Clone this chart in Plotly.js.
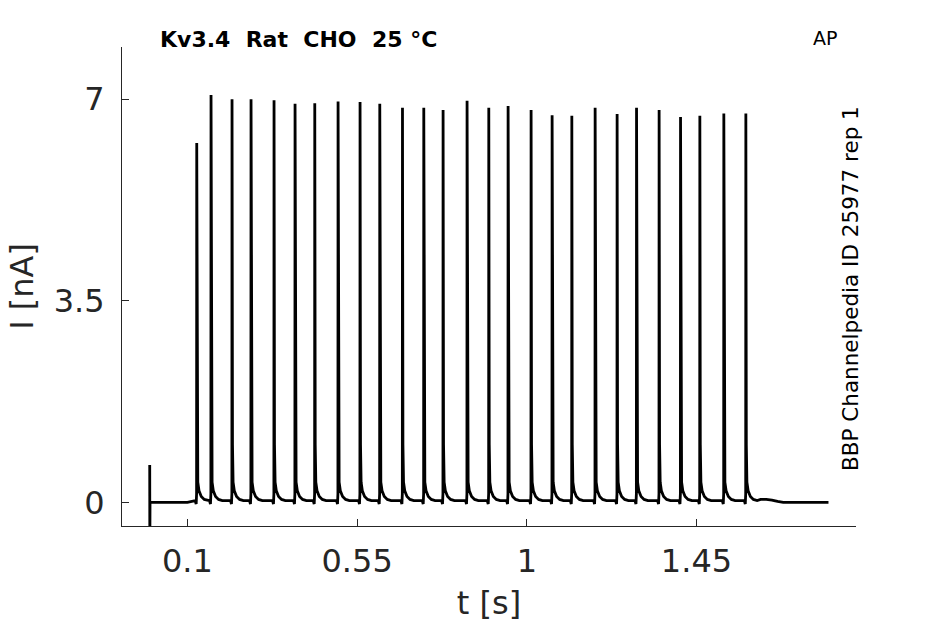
<!DOCTYPE html>
<html>
<head>
<meta charset="utf-8">
<script src="https://cdn.plot.ly/plotly-3.0.1.min.js"></script>
<style>html,body{margin:0;padding:0;background:#fff;}#chart{width:945px;height:624px;}</style>
</head>
<body>
<div id="chart"></div>
<script>
// Spike times (s) and peak currents (nA)
const spikeTimes = [0.1247, 0.1626, 0.2183, 0.2687, 0.3297, 0.3854, 0.4377, 0.4995, 0.5578,
  0.6101, 0.6703, 0.7268, 0.7780, 0.8416, 0.8992, 0.9504, 1.0114, 1.0671, 1.1194,
  1.1812, 1.2395, 1.2910, 1.3509, 1.4077, 1.4589, 1.5225, 1.5809];
const spikePeaks = [6.24, 7.07, 7.00, 7.00, 6.98, 6.92, 6.93, 6.96, 6.95,
  6.92, 6.85, 6.85, 6.81, 6.97, 6.85, 6.88, 6.81, 6.72, 6.71,
  6.85, 6.74, 6.85, 6.81, 6.69, 6.71, 6.75, 6.75];
// Waveform around each spike (offset in s, value in nA; null = peak)
const shapeDt  = [-0.004, -0.0015, -0.0004, 0, 0.0012, 0.0028, 0.006, 0.012, 0.02, 0.03];
const shapeVal = [0.03, -0.03, 0.15, null, 1.0, 0.35, 0.2, 0.1, 0.05, 0.03];
// Stimulus artifact and baseline before the first spike
const preTimes  = [0, 0.0003, 0.0008, 0.10, 0.118];
const preValues = [0.65, -0.77, 0, 0, 0.02];
// Tail after the last spike
const tailTimes  = [1.62, 1.635, 1.65, 1.665, 1.68, 1.80];
const tailValues = [0.05, 0.05, 0.04, 0.015, 0, 0];
// Axis ticks
const xTickVals = [0.1, 0.55, 1, 1.45];
const xTickText = ['0.1', '0.55', '1', '1.45'];
const yTickVals = [0, 3.5, 7];
const yTickText = ['0', '3.5', '7'];

const xs = [], ys = [];
preTimes.forEach((t, i) => { xs.push(t); ys.push(preValues[i]); });
spikeTimes.forEach((t0, k) => {
  shapeDt.forEach((dt, j) => {
    xs.push(t0 + dt);
    ys.push(shapeVal[j] === null ? spikePeaks[k] : shapeVal[j]);
  });
});
tailTimes.forEach((t, i) => { xs.push(t); ys.push(tailValues[i]); });

const axisColor = '#262626';
const fam = 'DejaVu Sans, sans-serif';
const L = 122, R = 89, T = 47, B = 98, W = 945, H = 624;
const pw = W - L - R, ph = H - T - B;
const px = x => (x - L) / pw;
const py = y => (H - B - y) / ph;

const data = [{
  x: xs, y: ys, type: 'scatter', mode: 'lines',
  line: {color: '#000000', width: 2.8},
  hoverinfo: 'skip', showlegend: false
}];

const layout = {
  width: W, height: H,
  margin: {l: L, r: R, t: T, b: B, pad: 0},
  paper_bgcolor: '#ffffff', plot_bgcolor: '#ffffff',
  font: {family: fam, color: axisColor},
  xaxis: {
    range: [-0.0735, 1.873], showgrid: false, zeroline: false,
    showline: true, linecolor: axisColor, linewidth: 1,
    ticks: 'inside', ticklen: 7, tickwidth: 1, tickcolor: axisColor,
    tickvals: xTickVals, ticktext: xTickText,
    tickfont: {family: fam, size: 32, color: axisColor},
    ticklabelstandoff: 7,
    title: {text: 't [s]', font: {family: fam, size: 32, color: axisColor}, standoff: 12}
  },
  yaxis: {
    range: [-0.411, 7.905], showgrid: false, zeroline: false,
    showline: true, linecolor: axisColor, linewidth: 1,
    ticks: 'inside', ticklen: 7, tickwidth: 1, tickcolor: axisColor,
    tickvals: yTickVals, ticktext: yTickText,
    tickfont: {family: fam, size: 32, color: axisColor},
    ticklabelstandoff: 10,
    title: {text: 'I [nA]', font: {family: fam, size: 32, color: axisColor}, standoff: 10}
  },
  annotations: [
    {text: 'Kv3.4\u00A0\u00A0Rat\u00A0\u00A0CHO\u00A0\u00A025\u00A0°C', xref: 'paper', yref: 'paper',
     x: px(298), y: py(40), xanchor: 'center', yanchor: 'middle', showarrow: false,
     font: {family: fam, size: 22, color: '#000000', weight: 'bold'}},
    {text: 'AP', xref: 'paper', yref: 'paper',
     x: px(825), y: py(38), xanchor: 'center', yanchor: 'middle', showarrow: false,
     font: {family: fam, size: 19, color: '#000000'}},
    {text: 'BBP Channelpedia ID 25977 rep 1', xref: 'paper', yref: 'paper',
     x: px(850), y: py(289), xanchor: 'center', yanchor: 'middle', showarrow: false,
     textangle: -90,
     font: {family: fam, size: 21.5, color: '#000000'}}
  ]
};

Plotly.newPlot('chart', data, layout, {staticPlot: true, displayModeBar: false});
</script>
</body>
</html>
